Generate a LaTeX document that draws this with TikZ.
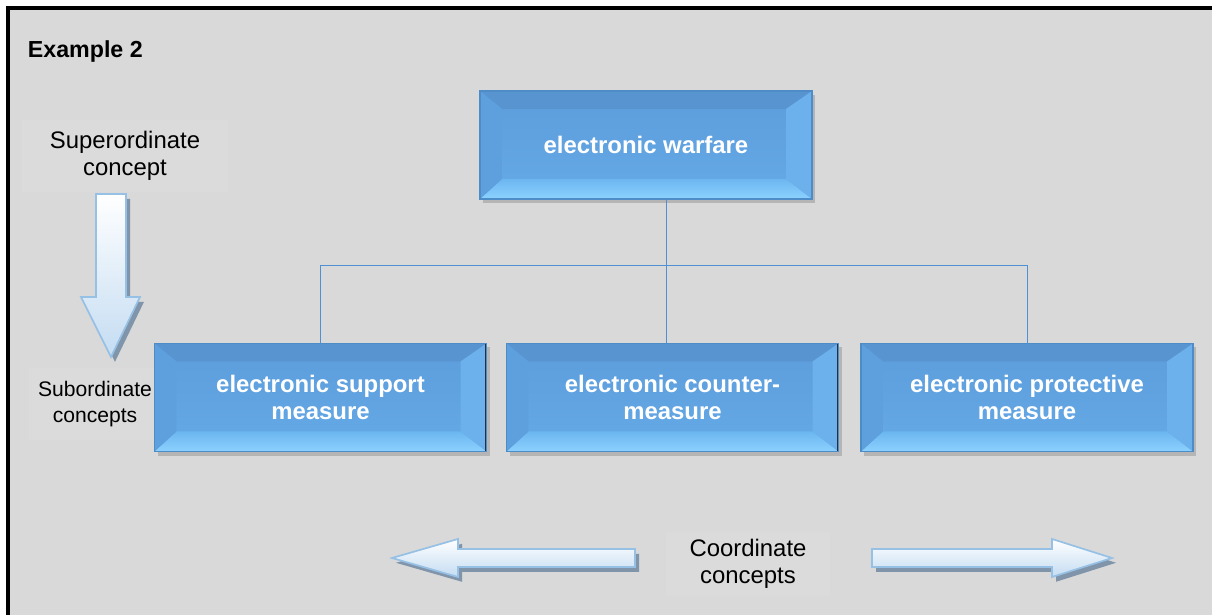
\documentclass[tikz,border=0pt]{standalone}
\usepackage{fontspec}
\setmainfont{Liberation Sans}
\usetikzlibrary{calc,shadows}
\definecolor{bggray}{RGB}{217,217,217}
\definecolor{labelgray}{RGB}{219,219,219}
\definecolor{facetop}{RGB}{92,156,218}
\definecolor{facebot}{RGB}{102,170,232}
\definecolor{beveltop}{RGB}{88,148,208}
\definecolor{bevelbotin}{RGB}{108,182,240}
\definecolor{bevelbotout}{RGB}{140,210,255}
\definecolor{bevelleft}{RGB}{94,160,222}
\definecolor{bevelright}{RGB}{108,176,236}
\definecolor{edgeblue}{RGB}{78,140,200}
\definecolor{darkedge}{RGB}{32,48,72}
\definecolor{connblue}{RGB}{79,145,210}
\definecolor{arrowedge}{RGB}{150,192,228}
\definecolor{arrowfill}{RGB}{196,220,242}
\definecolor{arrowshade}{RGB}{128,148,170}

\tikzset{
    bevelbox/.style={
        minimum width=8.3cm, minimum height=2.7cm, inner sep=0pt,
        align=center, text=white,
        font=\bfseries\fontsize{17}{19}\selectfont,
        top color=facetop, bottom color=facebot,
        draw=edgeblue, line width=0.8pt,
        drop shadow={shadow xshift=0.08cm, shadow yshift=-0.1cm, opacity=0.4},
        path picture={
            \coordinate (nw) at (path picture bounding box.north west);
            \coordinate (ne) at (path picture bounding box.north east);
            \coordinate (sw) at (path picture bounding box.south west);
            \coordinate (se) at (path picture bounding box.south east);
            \fill[beveltop] (nw) -- (ne) -- ($(ne)+(-0.65cm,-0.45cm)$) -- ($(nw)+(0.55cm,-0.45cm)$) -- cycle;
            \shade[top color=bevelbotin, bottom color=bevelbotout] (sw) -- (se) -- ($(se)+(-0.65cm,0.5cm)$) -- ($(sw)+(0.55cm,0.5cm)$) -- cycle;
            \fill[bevelleft] (nw) -- (sw) -- ($(sw)+(0.55cm,0.5cm)$) -- ($(nw)+(0.55cm,-0.45cm)$) -- cycle;
            \fill[bevelright] (ne) -- (se) -- ($(se)+(-0.65cm,0.5cm)$) -- ($(ne)+(-0.65cm,-0.45cm)$) -- cycle;
            \draw[darkedge, line width=2pt] (ne) -- (se);
        }},
    conn/.style={draw=connblue, line width=0.6pt},
    concept/.style={fill=labelgray, align=center, inner sep=0pt,
        font=\fontsize{17}{19}\selectfont},
    blockarrow/.style={top color=white, bottom color=arrowfill,
        draw=arrowedge, line width=1.2pt, line join=miter,
        drop shadow={shadow xshift=0.1cm, shadow yshift=-0.12cm, fill=arrowshade, opacity=1}}
}

\begin{document}
\begin{tikzpicture}[x=0.025cm, y=0.025cm]
    \useasboundingbox (0,0) rectangle (1212,615);
    \clip (0,0) rectangle (1212,615);
    % Page frame, cut at the right and bottom.
    \fill[white] (0,0) rectangle (1212,615);
    \draw[black, fill=bggray, line width=2.2pt] (8,607) rectangle (1240,-30);
    \node[anchor=west, font=\bfseries\fontsize{16.5}{19}\selectfont] (title) at (23,563) {Example 2};

    % Side labels.
    \node[concept, minimum width=5.15cm, minimum height=1.78cm] (super) at (125,459) {Superordinate\\concept};
    \node[concept, minimum width=3.3cm, minimum height=1.8cm, font=\fontsize{15}{18.5}\selectfont] (sub) at (95,211) {Subordinate\\concepts};
    \node[concept, minimum width=4.1cm, minimum height=1.6cm] (coord) at (748,51) {Coordinate\\concepts};

    % Concept boxes.
    \node[bevelbox] (warfare) at (646,470) {electronic warfare};
    \node[bevelbox] (support) at (320.5,217.5) {electronic support\\measure};
    \node[bevelbox] (counter) at (672.5,217.5) {electronic counter-\\measure};
    \node[bevelbox] (protective) at (1027,217.5) {electronic protective\\measure};

    % Tree connectors.
    \coordinate (bus) at (666,350);
    \draw[conn] (warfare.south -| bus) -- (counter.north -| bus);
    \draw[conn] (support.north) -- (support.north |- bus) -- (protective.north |- bus) -- (protective.north);

    % Block arrows.
    \draw[blockarrow] (96,421) -- (126,421) -- (126,318) -- (140,318) -- (111,258) -- (81,318) -- (96,318) -- cycle;
    \draw[blockarrow] (392,57) -- (458,76) -- (458,66) -- (635,66) -- (635,48) -- (458,48) -- (458,38) -- cycle;
    \draw[blockarrow] (872,66) -- (1052,66) -- (1052,76) -- (1112,57) -- (1052,38) -- (1052,48) -- (872,48) -- cycle;
\end{tikzpicture}
\end{document}
